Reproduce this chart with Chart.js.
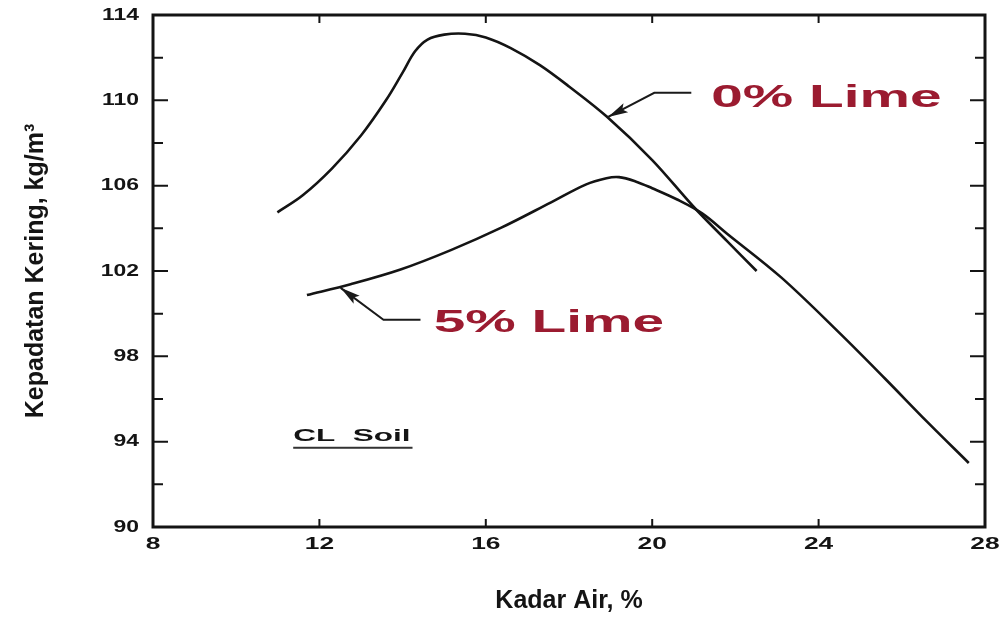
<!DOCTYPE html>
<html>
<head>
<meta charset="utf-8">
<script src="https://cdn.jsdelivr.net/npm/chart.js@4.4.1/dist/chart.umd.min.js"></script>
<style>
  html, body { margin: 0; padding: 0; background: #fff; }
</style>
</head>
<body>
<canvas id="chart" width="1007" height="618"></canvas>
<script>
// axis ranges / ticks
const xTicks = [8, 12, 16, 20, 24, 28];
const yTicks = [90, 94, 98, 102, 106, 110, 114];

// 0% lime curve (moisture %, dry density)
const moisture0 = [10.99, 11.6, 12.3, 13.0, 13.6, 14.0, 14.3, 14.6, 15.0, 15.5, 16.0, 16.6, 17.3, 18.0, 18.9, 20.0, 21.0, 21.8, 22.51];
const density0 = [104.75, 105.55, 106.8, 108.35, 110.0, 111.3, 112.3, 112.85, 113.08, 113.12, 112.95, 112.45, 111.65, 110.65, 109.25, 107.2, 105.0, 103.4, 102.0];

// 5% lime curve
const moisture5 = [11.7, 12.75, 13.95, 15.16, 16.36, 17.57, 18.4, 18.9, 19.2, 19.6, 20.0, 20.6, 21.2, 21.8, 23.1, 24.5, 25.6, 26.6, 27.61];
const density5 = [100.87, 101.38, 102.07, 102.98, 104.02, 105.22, 106.05, 106.35, 106.4, 106.2, 105.88, 105.35, 104.7, 103.75, 101.7, 99.1, 96.95, 94.95, 93.0];

// labels drawn on the plot, anchored in data units
const curveLabels = ["0% Lime", "5% Lime"];
const labelAnchorX = [21.42, 14.75];
const labelAnchorY = [110.1, 99.55];
// arrow polylines: start, elbow, tip
const arrowX = [[20.94, 20.05, 18.94], [14.43, 13.54, 12.51]];
const arrowY = [[110.35, 110.35, 109.22], [99.71, 99.71, 101.21]];
const soilLabel = "CL  Soil";
const soilAnchor = [11.37, 94.23];

const FONT = "'Liberation Sans', Arial, sans-serif";
const INK = "#141414";
const RED = "#9b1b30";

const toPoints = (xs, ys) => xs.map((v, i) => ({ x: v, y: ys[i] }));

function stretchedText(ctx, text, px, py, sx, align) {
  ctx.save();
  ctx.translate(px, py);
  ctx.scale(sx, 1);
  ctx.textAlign = align;
  ctx.fillText(text, 0, 0);
  ctx.restore();
}

const framePlugin = {
  id: "frame",
  beforeDatasetsDraw(chart) {
    const { ctx, chartArea: { left, top, right, bottom }, scales: { x, y } } = chart;
    ctx.save();
    ctx.strokeStyle = INK;
    ctx.lineWidth = 3;
    ctx.strokeRect(left, top, right - left, bottom - top);
    ctx.lineWidth = 2;
    for (let v = yTicks[0] + 2; v < yTicks[yTicks.length - 1]; v += 2) {
      const py = y.getPixelForValue(v);
      const len = (v - yTicks[0]) % 4 === 0 ? 15 : 10;
      ctx.beginPath();
      ctx.moveTo(left, py); ctx.lineTo(left + len, py);
      ctx.moveTo(right, py); ctx.lineTo(right - len, py);
      ctx.stroke();
    }
    xTicks.slice(1, -1).forEach(v => {
      const px = x.getPixelForValue(v);
      ctx.beginPath();
      ctx.moveTo(px, bottom); ctx.lineTo(px, bottom - 8);
      ctx.moveTo(px, top); ctx.lineTo(px, top + 8);
      ctx.stroke();
    });
    ctx.restore();
  },
  afterDraw(chart) {
    const { ctx, chartArea: { left, bottom }, scales: { x, y } } = chart;
    ctx.save();
    ctx.fillStyle = INK;
    ctx.font = "bold 17px " + FONT;
    ctx.textBaseline = "middle";
    y.ticks.forEach(t => stretchedText(ctx, String(t.value), left - 14, y.getPixelForValue(t.value), 1.35, "right"));
    x.ticks.forEach(t => stretchedText(ctx, String(t.value), x.getPixelForValue(t.value), bottom + 17, 1.55, "center"));

    // arrows
    ctx.strokeStyle = "#1a1a1a";
    ctx.fillStyle = "#1a1a1a";
    ctx.lineWidth = 2;
    arrowX.forEach((xs, i) => {
      const pts = xs.map((v, k) => [x.getPixelForValue(v), y.getPixelForValue(arrowY[i][k])]);
      ctx.beginPath();
      ctx.moveTo(pts[0][0], pts[0][1]);
      ctx.lineTo(pts[1][0], pts[1][1]);
      ctx.lineTo(pts[2][0], pts[2][1]);
      ctx.stroke();
      const [ex, ey] = pts[1], [tx, ty] = pts[2];
      const a = Math.atan2(ty - ey, tx - ex);
      const L = 20, W = 5;
      ctx.beginPath();
      ctx.moveTo(tx, ty);
      ctx.lineTo(tx - L * Math.cos(a) + W * Math.sin(a), ty - L * Math.sin(a) - W * Math.cos(a));
      ctx.lineTo(tx - L * 0.8 * Math.cos(a), ty - L * 0.8 * Math.sin(a));
      ctx.lineTo(tx - L * Math.cos(a) - W * Math.sin(a), ty - L * Math.sin(a) + W * Math.cos(a));
      ctx.closePath();
      ctx.fill();
    });

    // curve names
    ctx.fillStyle = RED;
    ctx.font = "bold 31px " + FONT;
    curveLabels.forEach((txt, i) => {
      stretchedText(ctx, txt, x.getPixelForValue(labelAnchorX[i]), y.getPixelForValue(labelAnchorY[i]), 1.83, "left");
    });

    // soil tag
    ctx.fillStyle = INK;
    ctx.font = "bold 16px " + FONT;
    const sx = x.getPixelForValue(soilAnchor[0]);
    const sy = y.getPixelForValue(soilAnchor[1]);
    stretchedText(ctx, soilLabel, sx, sy, 1.97, "left");
    const w = ctx.measureText(soilLabel).width * 1.97;
    ctx.fillStyle = "#333";
    ctx.fillRect(sx, sy + 10, w + 2, 2);
    ctx.restore();
  }
};

const lineStyle = {
  showLine: true,
  borderColor: INK,
  borderWidth: 2.6,
  pointRadius: 0,
  fill: false,
  tension: 0.35
};

new Chart(document.getElementById("chart"), {
  type: "scatter",
  data: {
    datasets: [
      { label: curveLabels[0], data: toPoints(moisture0, density0), ...lineStyle },
      { label: curveLabels[1], data: toPoints(moisture5, density5), ...lineStyle }
    ]
  },
  options: {
    responsive: false,
    animation: false,
    layout: { padding: { left: 21, top: 15, right: 22, bottom: 2 } },
    plugins: { legend: { display: false }, tooltip: { enabled: false } },
    scales: {
      x: {
        type: "linear",
        min: xTicks[0],
        max: xTicks[xTicks.length - 1],
        ticks: { stepSize: 4, display: false },
        grid: { display: false, drawTicks: false },
        border: { display: false },
        title: { display: true, text: "Kadar Air, %", color: INK, padding: 0, font: { family: FONT, size: 25, weight: "bold" } },
        afterFit(s) { s.height = 89; }
      },
      y: {
        type: "linear",
        min: yTicks[0],
        max: yTicks[yTicks.length - 1],
        ticks: { stepSize: 4, display: false },
        grid: { display: false, drawTicks: false },
        border: { display: false },
        title: { display: true, text: "Kepadatan Kering, kg/m³", color: INK, padding: 0, font: { family: FONT, size: 25, weight: "bold" } },
        afterFit(s) { s.width = 132; }
      }
    }
  },
  plugins: [framePlugin]
});
</script>
</body>
</html>
